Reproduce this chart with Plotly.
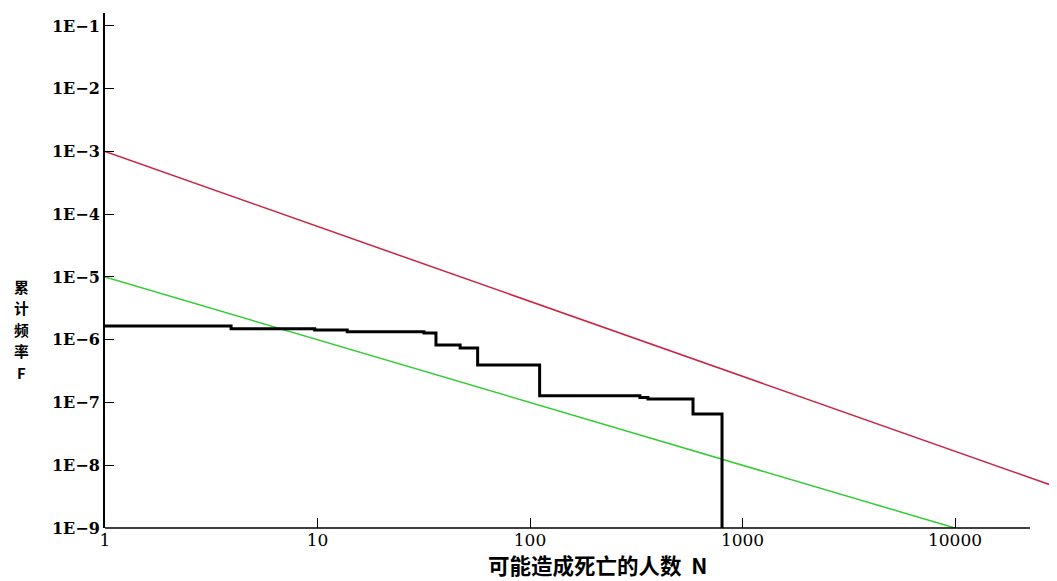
import plotly.graph_objects as go

# ---- data ----
red_n = [1, 30000]
red_f = [1e-3, 4.5e-9]

green_n = [1, 10000]
green_f = [1e-5, 1e-9]

fn_n = [1, 3.92, 9.7, 13.8, 31.7, 36.1, 46.9, 56.7, 111, 329, 359, 585, 801]
fn_f = [1.66e-6, 1.50e-6, 1.43e-6, 1.34e-6, 1.28e-6, 8.25e-7, 7.39e-7,
        3.96e-7, 1.28e-7, 1.2e-7, 1.14e-7, 6.57e-8, 1e-9]

x_tickvals = [1, 10, 100, 1000, 10000]
x_ticktext = ["1", "10", "100", "1000", "10000"]
y_tickvals = [1e-1, 1e-2, 1e-3, 1e-4, 1e-5, 1e-6, 1e-7, 1e-8, 1e-9]
y_ticktext = ["1E\u22121", "1E\u22122", "1E\u22123", "1E\u22124", "1E\u22125",
              "1E\u22126", "1E\u22127", "1E\u22128", "1E\u22129"]

x_title = "可能造成死亡的人数  N"
y_title_chars = ["累", "计", "频", "率", "F"]

fig = go.Figure()
fig.add_trace(go.Scatter(x=red_n, y=red_f, mode="lines",
                         line=dict(color="#cc2244", width=1.5), showlegend=False))
fig.add_trace(go.Scatter(x=green_n, y=green_f, mode="lines",
                         line=dict(color="#33cc33", width=1.5), showlegend=False))
fig.add_trace(go.Scatter(x=fn_n, y=fn_f, mode="lines", line_shape="hv",
                         line=dict(color="black", width=3), showlegend=False))

# page body has an 8px margin; figure sits at (8, 8) in the window
OFF = 8
W, H = 1057 - OFF, 581 - OFF
L, R, T = 105 - OFF, 0, 13 - OFF
B = H - (528 - OFF)
PW, PH = W - L - R, H - T - B


def px_x(px):
    return (px - OFF - L) / PW


def px_y(py):
    return ((H - B) - (py - OFF)) / PH


annotations = [
    dict(text=x_title, xref="paper", yref="paper",
         x=px_x(597), y=px_y(564),
         xanchor="center", yanchor="middle", showarrow=False,
         font=dict(family="Noto Sans CJK SC", size=21.5, color="black",
                   weight="bold")),
]
for i, ch in enumerate(y_title_chars):
    annotations.append(
        dict(text=ch, xref="paper", yref="paper",
             x=px_x(21), y=px_y(286 + 21.5 * i),
             xanchor="center", yanchor="middle", showarrow=False,
             font=dict(family="Noto Sans CJK SC", size=14.8, color="black",
                       weight="bold")))

fig.update_layout(
    width=W, height=H,
    margin=dict(l=L, r=R, t=T, b=B),
    paper_bgcolor="white", plot_bgcolor="white",
    xaxis=dict(type="log", range=[0, 4.48], showgrid=False, zeroline=False,
               showline=False, ticks="inside", ticklen=10, tickcolor="black",
               tickwidth=1, tickvals=x_tickvals, ticktext=x_ticktext,
               tickfont=dict(family="DejaVu Serif", size=17, color="black")),
    yaxis=dict(type="log", range=[-9, -0.793], showgrid=False, zeroline=False,
               showline=True, linecolor="black", linewidth=2,
               ticks="inside", ticklen=9, tickcolor="black", tickwidth=1,
               tickvals=y_tickvals, ticktext=y_ticktext,
               tickfont=dict(family="DejaVu Serif", size=16, color="black",
                             weight="bold")),
    shapes=[dict(type="line", xref="paper", yref="paper", x0=0,
                 x1=px_x(1030), y0=0, y1=0,
                 line=dict(color="black", width=1.5))],
    annotations=annotations,
)

fig.write_html("out.html")
